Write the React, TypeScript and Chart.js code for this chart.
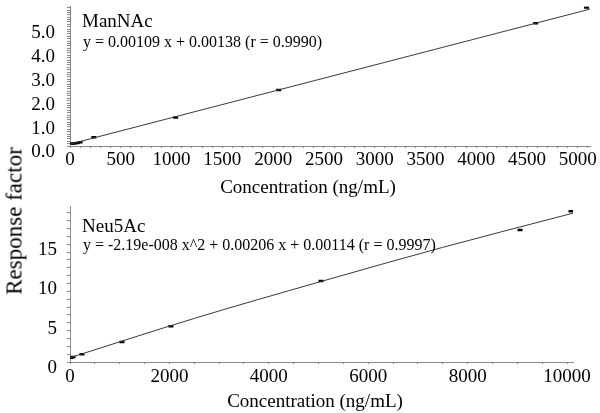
import React, { useEffect, useRef } from 'react';
import { Chart, registerables } from 'chart.js';

Chart.register(...registerables);

// ManNAc calibration (top panel)
const manConc = [15, 40, 70, 100, 235, 1040, 2055, 4585, 5085];
const manResp = [0.1, 0.11, 0.13, 0.16, 0.37, 1.19, 2.35, 5.15, 5.81];
const manFitConc = [0, 5120];
const manFitResp = [0.08, 5.74];

// Neu5Ac calibration (bottom panel)
const neuConc = [20, 60, 240, 1045, 2030, 5050, 9055, 10080];
const neuResp = [0.55, 0.65, 1.0, 2.55, 4.55, 10.3, 16.8, 19.2];
const neuFitConc = [0, 2500, 5050, 7500, 10120];
const neuFitResp = [0.55, 5.55, 10.25, 14.6, 18.95];

const manLabel = 'ManNAc';
const manEquation = 'y = 0.00109 x + 0.00138 (r = 0.9990)';
const neuLabel = 'Neu5Ac';
const neuEquation = 'y = -2.19e-008 x^2 + 0.00206 x + 0.00114 (r = 0.9997)';
const xTitle = 'Concentration (ng/mL)';
const yTitle = 'Response factor';

const FONT = "'Liberation Serif', 'Times New Roman', serif";
const AXIS = '#8a8a8a';

type PanelCfg = {
  conc: number[];
  resp: number[];
  fitConc: number[];
  fitResp: number[];
  xMax: number;
  yMax: number;
  xStep: number;
  xLabelEvery: number;
  yStep: number;
  yLabelEvery: number;
  yDecimals: number;
  yLabelOffset: number;
  xHeight: number;
  padTop: number;
  padRight: number;
  xPad: number;
  yPad: number;
};

function isMultiple(v: number, m: number) {
  const r = v / m;
  return Math.abs(r - Math.round(r)) < 1e-6;
}

function stepTicks(max: number, step: number) {
  const out: { value: number }[] = [];
  const n = Math.floor(max / step + 1e-9);
  for (let i = 0; i <= n; i++) out.push({ value: Number((i * step).toFixed(6)) });
  return out;
}

function Panel({ cfg, width, height }: { cfg: PanelCfg; width: number; height: number }) {
  const ref = useRef<HTMLCanvasElement | null>(null);
  useEffect(() => {
    if (!ref.current) return;
    const chart = new Chart(ref.current, {
      type: 'scatter',
      data: {
        datasets: [
          {
            type: 'line',
            data: cfg.fitConc.map((x, i) => ({ x, y: cfg.fitResp[i] })),
            borderColor: '#3a3a3a',
            borderWidth: 1,
            pointRadius: 0,
            fill: false,
            cubicInterpolationMode: 'monotone',
          } as any,
          {
            data: cfg.conc.map((x, i) => ({ x, y: cfg.resp[i] })),
            pointStyle: 'line',
            pointRadius: 2.5,
            borderWidth: 2.5,
            borderColor: '#000',
            backgroundColor: '#000',
          } as any,
        ],
      },
      options: {
        responsive: false,
        animation: false,
        layout: { padding: { left: 0, right: cfg.padRight, top: cfg.padTop, bottom: 0 } },
        plugins: { legend: { display: false }, tooltip: { enabled: false } },
        scales: {
          x: {
            type: 'linear',
            min: 0,
            max: cfg.xMax,
            afterBuildTicks: (s: any) => {
              s.ticks = stepTicks(cfg.xMax, cfg.xStep);
            },
            afterFit: (s: any) => {
              s.height = cfg.xHeight;
              s.paddingLeft = 0;
              s.paddingRight = 0;
              s.paddingTop = 0;
              s.paddingBottom = 0;
            },
            border: { color: AXIS, width: 1 },
            grid: { drawOnChartArea: false, drawTicks: true, tickLength: 2, color: AXIS },
            ticks: {
              autoSkip: false,
              maxRotation: 0,
              minRotation: 0,
              padding: cfg.xPad,
              color: '#000',
              font: { family: FONT, size: 19 },
              callback: (v: any) => (isMultiple(Number(v), cfg.xLabelEvery) ? String(Math.round(Number(v))) : ''),
            },
          },
          y: {
            type: 'linear',
            min: 0,
            max: cfg.yMax,
            afterBuildTicks: (s: any) => {
              s.ticks = stepTicks(cfg.yMax, cfg.yStep);
            },
            afterFit: (s: any) => {
              s.width = 70;
              s.paddingLeft = 0;
              s.paddingRight = 0;
              s.paddingTop = 0;
              s.paddingBottom = 0;
            },
            border: { color: AXIS, width: 1 },
            grid: { drawOnChartArea: false, drawTicks: true, tickLength: 3, color: AXIS },
            ticks: {
              autoSkip: false,
              padding: cfg.yPad,
              labelOffset: cfg.yLabelOffset,
              color: '#000',
              font: { family: FONT, size: 19 },
              callback: (v: any) =>
                isMultiple(Number(v), cfg.yLabelEvery) ? Number(v).toFixed(cfg.yDecimals) : '',
            },
          },
        },
      } as any,
    });
    return () => chart.destroy();
  }, [cfg]);
  return <canvas ref={ref} width={width} height={height} style={{ display: 'block', width, height }} />;
}

const topCfg: PanelCfg = {
  conc: manConc,
  resp: manResp,
  fitConc: manFitConc,
  fitResp: manFitResp,
  xMax: 5120,
  yMax: 5.85,
  xStep: 100,
  xLabelEvery: 500,
  yStep: 0.1,
  yLabelEvery: 1,
  yDecimals: 1,
  yLabelOffset: 6.5,
  xHeight: 54,
  padTop: 4,
  padRight: 10,
  xPad: 1,
  yPad: 12,
};

const bottomCfg: PanelCfg = {
  conc: neuConc,
  resp: neuResp,
  fitConc: neuFitConc,
  fitResp: neuFitResp,
  xMax: 10120,
  yMax: 19.8,
  xStep: 500,
  xLabelEvery: 2000,
  yStep: 1,
  yLabelEvery: 5,
  yDecimals: 0,
  yLabelOffset: 6,
  xHeight: 51,
  padTop: 6,
  padRight: 27,
  xPad: 2,
  yPad: 10,
};

const textBase: React.CSSProperties = {
  position: 'absolute',
  fontFamily: FONT,
  color: '#000',
  whiteSpace: 'nowrap',
  margin: 0,
};

export default function App() {
  return (
    <div
      style={{
        position: 'fixed',
        left: 0,
        top: 0,
        width: 600,
        height: 413,
        background: '#fff',
        overflow: 'hidden',
      }}
    >
      <div style={{ position: 'absolute', left: 0, top: 0 }}>
        <Panel cfg={topCfg} width={600} height={200} />
      </div>
      <div style={{ position: 'absolute', left: 0, top: 200 }}>
        <Panel cfg={bottomCfg} width={600} height={213} />
      </div>
      <div style={{ ...textBase, left: 82, top: 11, fontSize: 19, lineHeight: '19px' }}>{manLabel}</div>
      <div style={{ ...textBase, left: 83, top: 34, fontSize: 16, lineHeight: '16px' }}>{manEquation}</div>
      <div style={{ ...textBase, left: 82, top: 216, fontSize: 19, lineHeight: '19px' }}>{neuLabel}</div>
      <div style={{ ...textBase, left: 83, top: 237, fontSize: 16, lineHeight: '16px' }}>{neuEquation}</div>
      <div
        style={{
          ...textBase,
          left: 308,
          top: 177,
          fontSize: 19,
          lineHeight: '19px',
          transform: 'translateX(-50%)',
        }}
      >
        {xTitle}
      </div>
      <div
        style={{
          ...textBase,
          left: 315,
          top: 391,
          fontSize: 19,
          lineHeight: '19px',
          transform: 'translateX(-50%)',
        }}
      >
        {xTitle}
      </div>
      <div
        style={{
          ...textBase,
          left: 14,
          top: 221,
          fontSize: 23,
          lineHeight: '23px',
          transform: 'translate(-50%, -50%) rotate(-90deg)',
        }}
      >
        {yTitle}
      </div>
    </div>
  );
}
